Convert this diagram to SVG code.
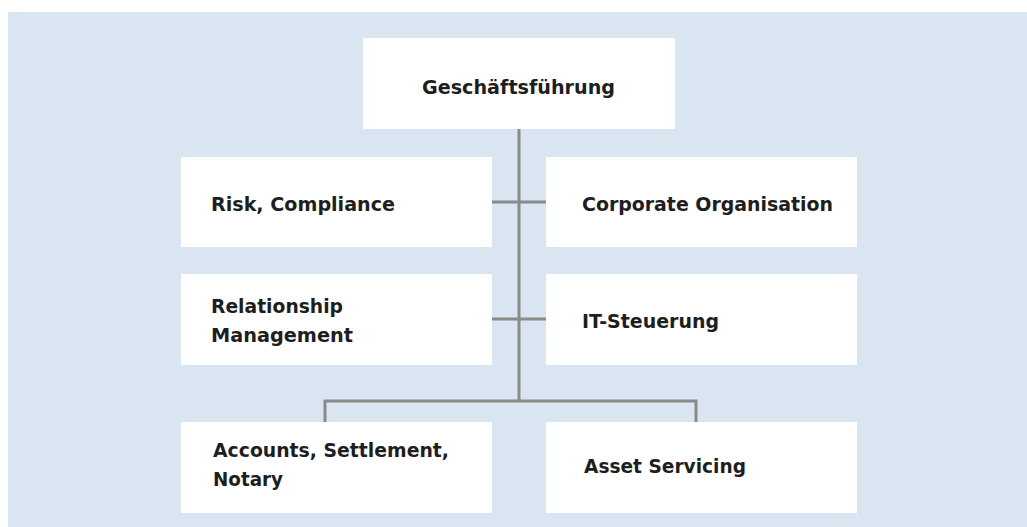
<svg xmlns="http://www.w3.org/2000/svg" width="1027" height="527" viewBox="0 0 1027 527">
<style>
.box{fill:#ffffff}
.t{font-family:"DejaVu Sans","Liberation Sans",sans-serif;font-weight:bold;font-size:19px;fill:#1e1e1e}
.c{fill:none;stroke:#8a8a8a;stroke-width:3}
</style>
<rect x="0" y="0" width="1027" height="527" fill="#ffffff"/>
<rect x="8" y="12" width="1019" height="515" fill="#d9e5f0"/>
<g id="connectors">
<path class="c" d="M519 129 V401"/>
<path class="c" d="M492 202 H546"/>
<path class="c" d="M492 319 H546"/>
<path class="c" d="M325 422 V401 H696 V422"/>
</g>
<g id="n-gf"><rect class="box" x="363" y="38" width="312" height="91"/><text class="t" x="422" y="94" textLength="193" lengthAdjust="spacingAndGlyphs">Geschäftsführung</text></g>
<g id="n-risk"><rect class="box" x="181" y="157" width="311" height="90"/><text class="t" x="211" y="211" textLength="184" lengthAdjust="spacingAndGlyphs">Risk, Compliance</text></g>
<g id="n-corp"><rect class="box" x="546" y="157" width="311" height="90"/><text class="t" x="582" y="211" textLength="251" lengthAdjust="spacingAndGlyphs">Corporate Organisation</text></g>
<g id="n-rel"><rect class="box" x="181" y="274" width="311" height="91"/><text class="t" x="211" y="313" textLength="132" lengthAdjust="spacingAndGlyphs">Relationship</text><text class="t" x="211" y="342" textLength="142" lengthAdjust="spacingAndGlyphs">Management</text></g>
<g id="n-it"><rect class="box" x="546" y="274" width="311" height="91"/><text class="t" x="582" y="328" textLength="137" lengthAdjust="spacingAndGlyphs">IT-Steuerung</text></g>
<g id="n-acc"><rect class="box" x="181" y="422" width="311" height="91"/><text class="t" x="213" y="457" textLength="236" lengthAdjust="spacingAndGlyphs">Accounts, Settlement,</text><text class="t" x="213" y="486" textLength="70" lengthAdjust="spacingAndGlyphs">Notary</text></g>
<g id="n-asset"><rect class="box" x="546" y="422" width="311" height="91"/><text class="t" x="584" y="473" textLength="162" lengthAdjust="spacingAndGlyphs">Asset Servicing</text></g>
</svg>
